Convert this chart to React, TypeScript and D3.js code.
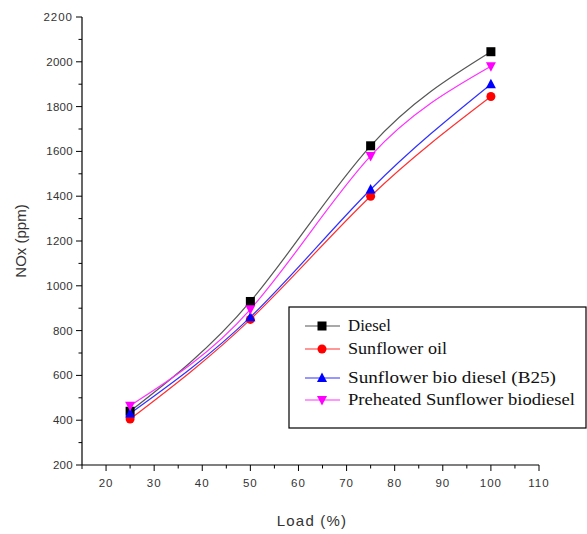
import React from "react";
import * as d3 from "d3";

const loads = [25, 50, 75, 100];
const diesel = [440, 930, 1625, 2045];
const sunflowerOil = [405, 850, 1400, 1845];
const b25 = [430, 860, 1430, 1900];
const preheated = [465, 895, 1580, 1980];

const xTicks = [20, 30, 40, 50, 60, 70, 80, 90, 100, 110];
const yTicks = [200, 400, 600, 800, 1000, 1200, 1400, 1600, 1800, 2000, 2200];

const series = [
  { name: "Diesel", values: diesel, color: "#000000", line: "#555555", marker: "square", textW: 43 },
  { name: "Sunflower oil", values: sunflowerOil, color: "#ff0000", line: "#ff3030", marker: "circle", textW: 99 },
  { name: "Sunflower bio diesel (B25)", values: b25, color: "#0000ff", line: "#3030ff", marker: "triangle", textW: 208 },
  { name: "Preheated Sunflower biodiesel", values: preheated, color: "#ff00ff", line: "#ff30ff", marker: "triangleDown", textW: 227 },
];

const W = 587;
const H = 534;
const margin = { left: 82, top: 17, right: 48, bottom: 69 };

function Marker({ type, x, y, color }: { type: string; x: number; y: number; color: string }) {
  if (type === "square") return <rect x={x - 4.5} y={y - 4.5} width={9} height={9} fill={color} />;
  if (type === "circle") return <circle cx={x} cy={y} r={4.5} fill={color} />;
  if (type === "triangle")
    return <path d={`M${x},${y - 5.5}L${x + 5},${y + 4}L${x - 5},${y + 4}Z`} fill={color} />;
  return <path d={`M${x},${y + 5.5}L${x + 5},${y - 4}L${x - 5},${y - 4}Z`} fill={color} />;
}

export default function App() {
  const x = d3.scaleLinear().domain([15, 110]).range([margin.left, W - margin.right]);
  const y = d3.scaleLinear().domain([200, 2200]).range([H - margin.bottom, margin.top]);

  const line = d3
    .line<[number, number]>()
    .x((d) => x(d[0]))
    .y((d) => y(d[1]))
    .curve(d3.curveNatural);

  const xMinor = d3.range(25, 110, 10);
  const yMinor = d3.range(300, 2200, 200);
  const tickFont = "Liberation Sans, Arial, sans-serif";
  const serifFont = "Liberation Serif, DejaVu Serif, serif";

  const legendX = 289;
  const legendY = 307;
  const rows = [326, 349, 378, 400];

  return (
    <svg width={W} height={H} style={{ position: "absolute", left: 0, top: 0, background: "#fff" }}>
      {/* axes */}
      <line x1={x(15)} x2={x(110)} y1={y(200)} y2={y(200)} stroke="#000" strokeWidth={1.2} />
      <line x1={x(15)} x2={x(15)} y1={y(200)} y2={y(2200)} stroke="#000" strokeWidth={1.2} />
      {xTicks.map((t) => (
        <g key={"xt" + t}>
          <line x1={x(t)} x2={x(t)} y1={y(200)} y2={y(200) + 6} stroke="#000" />
          <text x={x(t)} y={y(200) + 22} textAnchor="middle" style={{ fontFamily: tickFont, fontSize: 11.5, letterSpacing: 1 }} fill="#333">
            {t}
          </text>
        </g>
      ))}
      {xMinor.map((t) => (
        <line key={"xm" + t} x1={x(t)} x2={x(t)} y1={y(200)} y2={y(200) + 3.5} stroke="#000" />
      ))}
      <line x1={x(15)} x2={x(15)} y1={y(200)} y2={y(200) + 4} stroke="#000" />
      {yTicks.map((t) => (
        <g key={"yt" + t}>
          <line x1={x(15) - 6} x2={x(15)} y1={y(t)} y2={y(t)} stroke="#000" />
          <text x={x(15) - 9} y={y(t) + 4} textAnchor="end" style={{ fontFamily: tickFont, fontSize: 11.5, letterSpacing: t === 2200 ? 1 : 0.3 }} fill="#333">
            {t}
          </text>
        </g>
      ))}
      {yMinor.map((t) => (
        <line key={"ym" + t} x1={x(15) - 3.5} x2={x(15)} y1={y(t)} y2={y(t)} stroke="#000" />
      ))}
      <text x={312} y={526} textAnchor="middle" style={{ fontFamily: tickFont, fontSize: 15, letterSpacing: 1.2 }} fill="#333">
        Load (%)
      </text>
      <text
        transform={`translate(26,${241}) rotate(-90)`}
        textAnchor="middle"
        style={{ fontFamily: tickFont, fontSize: 15 }}
        fill="#333"
      >
        NOx (ppm)
      </text>

      {/* lines */}
      {series.map((s) => (
        <path
          key={s.name}
          d={line(loads.map((l, i) => [l, s.values[i]] as [number, number])) || ""}
          fill="none"
          stroke={s.line}
          strokeWidth={1.2}
        />
      ))}
      {series.map((s) =>
        loads.map((l, i) => (
          <Marker key={s.name + l} type={s.marker} x={x(l)} y={y(s.values[i])} color={s.color} />
        ))
      )}

      {/* legend */}
      <rect x={legendX} y={legendY} width={W - legendX - 1} height={121} fill="#fff" stroke="#000" strokeWidth={1.2} />
      {series.map((s, i) => (
        <g key={"lg" + s.name}>
          <line x1={305} x2={340} y1={rows[i]} y2={rows[i]} stroke={s.line} strokeWidth={1.2} />
          <Marker type={s.marker} x={322} y={rows[i]} color={s.color} />
          <text
            x={348}
            y={rows[i] + 5}
            style={{ fontFamily: serifFont, fontSize: 16.5 }}
            fill="#111"
            textLength={s.textW}
            lengthAdjust="spacingAndGlyphs"
          >
            {s.name}
          </text>
        </g>
      ))}
    </svg>
  );
}
